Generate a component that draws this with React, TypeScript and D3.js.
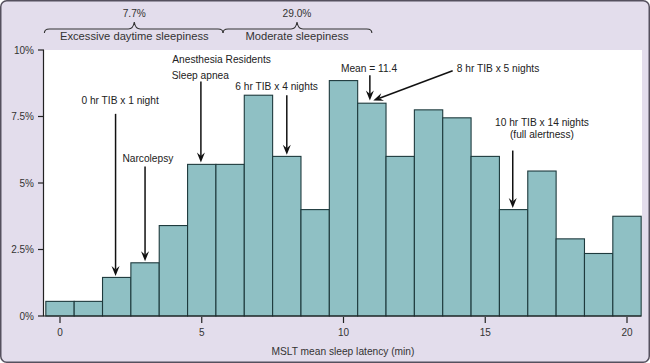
import React from 'react';
import * as d3 from 'd3';

// MSLT mean sleep latency (min) bins and the share of subjects in each (%)
const bins = [0, 1, 2, 3, 4, 5, 6, 7, 8, 9, 10, 11, 12, 13, 14, 15, 16, 17, 18, 19, 20];
const percents = [0.55, 0.55, 1.45, 2.0, 3.4, 5.7, 5.7, 8.3, 6.0, 4.0, 8.85, 8.0, 6.0, 7.75, 7.45, 6.0, 4.0, 5.45, 2.9, 2.35, 3.75];

const xTicks = [0, 5, 10, 15, 20];
const yTicks = [0, 2.5, 5, 7.5, 10];
const yTickLabels = ['0%', '2.5%', '5%', '7.5%', '10%'];

// top braces: [from, to, peak] in minutes
const braceLabels = ['Excessive daytime sleepiness', 'Moderate sleepiness'];
const bracePercents = ['7.7%', '29.0%'];
const braceSpans = [[-0.55, 5.75, 2.62], [5.75, 11.0, 8.36]];

// annotations: text lines, text anchor (min, %), arrow from (min, %) to (min, %)
const noteLines = [
  ['0 hr TIB x 1 night'],
  ['Narcolepsy'],
  ['Anesthesia Residents', 'Sleep apnea'],
  ['6 hr TIB x 4 nights'],
  ['Mean = 11.4'],
  ['8 hr TIB x 5 nights'],
  ['10 hr TIB x 14 nights', '(full alertness)'],
];
const noteTextXs = [[2.12], [3.1], [5.7, 4.95], [7.64], [10.9], [15.45], [17.0, 17.0]];
const noteTextY = [7.97, 5.8, 9.5, 8.5, 9.18, 9.18, 7.14];
const noteArrowFrom = [[1.96, 7.6], [3.0, 5.62], [4.97, 8.82], [8.0, 8.3], [10.93, 9.05], [13.85, 9.22], [15.97, 6.22]];
const noteArrowTo = [[1.96, 1.5], [3.0, 2.06], [4.97, 5.77], [8.0, 6.06], [10.93, 8.1], [11.05, 8.1], [15.97, 4.06]];

const W = 650;
const H = 363;
const plot = { left: 44, right: 642, top: 50, bottom: 316 };
const barFill = '#8fc0c4';
const barStroke = '#1e3a3d';
const bg = '#e3ddec';
const font = '"Liberation Sans", Arial, Helvetica, sans-serif';

const x = d3.scaleLinear().domain([0, 20]).range([60, 627]);
const y = d3.scaleLinear().domain([0, 10]).range([plot.bottom, plot.top]);

function bracePath(a: number, b: number, m: number, yb: number) {
  const x1 = x(a), x2 = x(b), xm = x(m);
  return `M${x1},${yb + 4} Q${x1},${yb} ${x1 + 5},${yb} L${xm - 6},${yb} Q${xm - 1},${yb} ${xm},${yb - 7} Q${xm + 1},${yb} ${xm + 6},${yb} L${x2 - 5},${yb} Q${x2},${yb} ${x2},${yb + 4}`;
}

function Arrow({ x1, y1, x2, y2 }: { x1: number; y1: number; x2: number; y2: number }) {
  const ang = Math.atan2(y2 - y1, x2 - x1);
  const len = 10;
  const half = 4;
  const bx = x2 - len * Math.cos(ang);
  const by = y2 - len * Math.sin(ang);
  const px = -Math.sin(ang) * half;
  const py = Math.cos(ang) * half;
  const nx = x2 - len * 0.65 * Math.cos(ang);
  const ny = y2 - len * 0.65 * Math.sin(ang);
  return (
    <g>
      <line x1={x1} y1={y1} x2={nx} y2={ny} stroke="#111" strokeWidth={1.5} />
      <path d={`M${x2},${y2} L${bx + px},${by + py} L${nx},${ny} L${bx - px},${by - py} Z`} fill="#111" />
    </g>
  );
}

export default function App() {
  const half = (x(1) - x(0)) / 2;
  return (
    <svg width={W} height={H} style={{ position: 'absolute', left: 0, top: 0 }} fontFamily={font}>
      <rect x={0.75} y={0.75} width={W - 1.5} height={H - 1.5} rx={6} fill={bg} stroke="#55505e" strokeWidth={1.5} />
      <rect x={plot.left} y={plot.top} width={plot.right - plot.left} height={plot.bottom - plot.top} fill="#fff" />

      {/* bars */}
      {bins.map((b, i) => (
        <rect
          key={b}
          x={x(b) - half}
          y={y(percents[i])}
          width={half * 2}
          height={y(0) - y(percents[i])}
          fill={barFill}
          stroke={barStroke}
          strokeWidth={1.1}
        />
      ))}

      {/* y axis */}
      <line x1={plot.left - 0.5} x2={plot.left - 0.5} y1={plot.top} y2={plot.bottom} stroke="#222" strokeWidth={1.2} />
      {yTicks.map((t, i) => (
        <g key={t}>
          <line x1={plot.left - 6} x2={plot.left} y1={y(t)} y2={y(t)} stroke="#222" strokeWidth={1.2} />
          <text x={plot.left - 10} y={y(t)} dy="0.35em" textAnchor="end" fontSize={10} fill="#333">
            {yTickLabels[i]}
          </text>
        </g>
      ))}

      {/* x axis */}
      <line x1={plot.left - 0.5} x2={x(20) + half} y1={plot.bottom} y2={plot.bottom} stroke="#222" strokeWidth={1.2} />
      {xTicks.map((t) => (
        <g key={t}>
          <line x1={x(t)} x2={x(t)} y1={plot.bottom + 1} y2={plot.bottom + 7} stroke="#222" strokeWidth={1.2} />
          <text x={x(t)} y={plot.bottom + 20} textAnchor="middle" fontSize={10} fill="#333">
            {t}
          </text>
        </g>
      ))}
      <text x={(plot.left + plot.right) / 2} y={355} textAnchor="middle" fontSize={10.2} fill="#333">
        MSLT mean sleep latency (min)
      </text>

      {/* braces */}
      {braceSpans.map(([a, b, m], i) => (
        <g key={i}>
          <path d={bracePath(a, b, m, 29)} fill="none" stroke="#333" strokeWidth={1.1} />
          <text x={x(m)} y={17} textAnchor="middle" fontSize={10.2} fill="#333">
            {bracePercents[i]}
          </text>
          <text x={x(m)} y={40} textAnchor="middle" fontSize={11.2} fill="#333">
            {braceLabels[i]}
          </text>
        </g>
      ))}

      {/* annotations */}
      {noteLines.map((lines, i) => (
        <g key={i}>
          {lines.map((l, j) => (
            <text
              key={j}
              x={x(noteTextXs[i][j])}
              y={y(noteTextY[i]) + j * (i === 2 ? 15.5 : 12.3)}
              textAnchor="middle"
              fontSize={10.2}
              fill="#222"
            >
              {l}
            </text>
          ))}
          <Arrow
            x1={x(noteArrowFrom[i][0])}
            y1={y(noteArrowFrom[i][1])}
            x2={x(noteArrowTo[i][0])}
            y2={y(noteArrowTo[i][1])}
          />
        </g>
      ))}
    </svg>
  );
}
